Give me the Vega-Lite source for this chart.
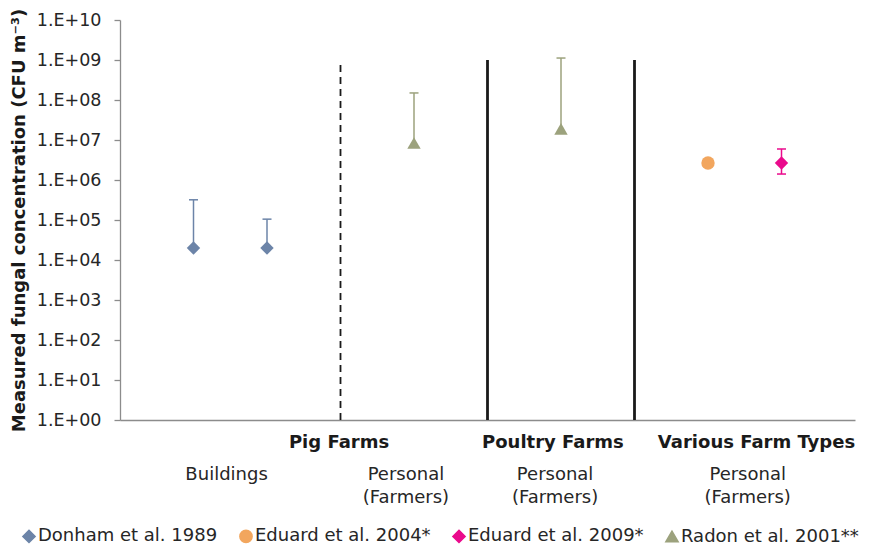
{
  "$schema": "https://vega.github.io/schema/vega-lite/v6.json",
  "width": 735,
  "height": 400,
  "autosize": {"type": "none"},
  "padding": {"left": 120, "top": 20, "right": 20, "bottom": 127},
  "config": {
    "view": {"stroke": null},
    "font": "DejaVu Sans",
    "axisX": {"labels": false, "ticks": false, "grid": false, "domainColor": "#8c8c8c", "domainWidth": 1.3, "title": null},
    "axisY": {"grid": false, "tickSize": 6, "tickColor": "#8c8c8c", "tickWidth": 1.3, "domainColor": "#8c8c8c", "domainWidth": 1.3, "labelFontSize": 17.5, "labelColor": "#262626", "labelPadding": 13, "titleFontSize": 18, "titleFontWeight": "bold", "titleColor": "#1a1a1a", "titlePadding": 8}
  },
  "datasets": {
    "points": [
      {"study": "Donham et al. 1989", "pos": 1, "value": 20000, "high": 320000},
      {"study": "Donham et al. 1989", "pos": 2, "value": 20000, "high": 105000},
      {"study": "Radon et al. 2001**", "pos": 4, "value": 8400000, "high": 150000000},
      {"study": "Radon et al. 2001**", "pos": 6, "value": 19000000, "high": 1120000000},
      {"study": "Eduard et al. 2004*", "pos": 8, "value": 2660000},
      {"study": "Eduard et al. 2009*", "pos": 9, "value": 2660000, "high": 5960000, "low": 1410000}
    ],
    "dashed": [{"pos": 3}],
    "solid": [{"pos": 5}, {"pos": 7}],
    "groups": [
      {"label": "Pig Farms", "pos": 2.98},
      {"label": "Poultry Farms", "pos": 5.89},
      {"label": "Various Farm Types", "pos": 8.66}
    ],
    "subgroups": [
      {"label": "Buildings", "pos": 1.45},
      {"label": "Personal|(Farmers)", "pos": 3.89},
      {"label": "Personal|(Farmers)", "pos": 5.92},
      {"label": "Personal|(Farmers)", "pos": 8.54}
    ]
  },
  "layer": [
    {
      "data": {"name": "dashed"},
      "mark": {"type": "rule", "color": "#1a1a1a", "strokeWidth": 1.8, "strokeDash": [7, 5]},
      "encoding": {
        "x": {"field": "pos", "type": "quantitative", "scale": {"domain": [0, 10]}},
        "y": {"datum": 1, "type": "quantitative", "scale": {"type": "log", "domain": [1, 10000000000], "nice": false}, "axis": {"title": "Measured fungal concentration (CFU m⁻³)", "values": [1, 10, 100, 1000, 10000, 100000, 1000000, 10000000, 100000000, 1000000000, 10000000000], "labelExpr": "'1.E+' + (round(log(datum.value)/LN10) < 10 ? '0' : '') + round(log(datum.value)/LN10)"}},
        "y2": {"datum": 1000000000}
      }
    },
    {
      "data": {"name": "solid"},
      "mark": {"type": "rule", "color": "#1a1a1a", "strokeWidth": 2.8},
      "encoding": {
        "x": {"field": "pos", "type": "quantitative", "scale": {"domain": [0, 10]}},
        "y": {"datum": 1, "type": "quantitative", "scale": {"type": "log", "domain": [1, 10000000000], "nice": false}, "axis": {"title": "Measured fungal concentration (CFU m⁻³)", "values": [1, 10, 100, 1000, 10000, 100000, 1000000, 10000000, 100000000, 1000000000, 10000000000], "labelExpr": "'1.E+' + (round(log(datum.value)/LN10) < 10 ? '0' : '') + round(log(datum.value)/LN10)"}},
        "y2": {"datum": 1000000000}
      }
    },
    {
      "data": {"name": "points"},
      "transform": [{"filter": "isValid(datum.high)"}],
      "mark": {"type": "rule", "strokeWidth": 1.5},
      "encoding": {
        "x": {"field": "pos", "type": "quantitative", "scale": {"domain": [0, 10]}},
        "y": {"field": "value", "type": "quantitative", "scale": {"type": "log", "domain": [1, 10000000000], "nice": false}, "axis": {"title": "Measured fungal concentration (CFU m⁻³)", "values": [1, 10, 100, 1000, 10000, 100000, 1000000, 10000000, 100000000, 1000000000, 10000000000], "labelExpr": "'1.E+' + (round(log(datum.value)/LN10) < 10 ? '0' : '') + round(log(datum.value)/LN10)"}},
        "y2": {"field": "high"},
        "color": {"field": "study", "type": "nominal", "title": null}
      }
    },
    {
      "data": {"name": "points"},
      "transform": [{"filter": "isValid(datum.low)"}],
      "mark": {"type": "rule", "strokeWidth": 1.5},
      "encoding": {
        "x": {"field": "pos", "type": "quantitative", "scale": {"domain": [0, 10]}},
        "y": {"field": "low", "type": "quantitative", "scale": {"type": "log", "domain": [1, 10000000000], "nice": false}, "axis": {"title": "Measured fungal concentration (CFU m⁻³)", "values": [1, 10, 100, 1000, 10000, 100000, 1000000, 10000000, 100000000, 1000000000, 10000000000], "labelExpr": "'1.E+' + (round(log(datum.value)/LN10) < 10 ? '0' : '') + round(log(datum.value)/LN10)"}},
        "y2": {"field": "value"},
        "color": {"field": "study", "type": "nominal", "title": null}
      }
    },
    {
      "data": {"name": "points"},
      "transform": [{"filter": "isValid(datum.high)"}],
      "mark": {"type": "point", "shape": "stroke", "size": 81, "filled": false, "strokeWidth": 1.5, "opacity": 1},
      "encoding": {
        "x": {"field": "pos", "type": "quantitative", "scale": {"domain": [0, 10]}},
        "y": {"field": "high", "type": "quantitative", "scale": {"type": "log", "domain": [1, 10000000000], "nice": false}, "axis": {"title": "Measured fungal concentration (CFU m⁻³)", "values": [1, 10, 100, 1000, 10000, 100000, 1000000, 10000000, 100000000, 1000000000, 10000000000], "labelExpr": "'1.E+' + (round(log(datum.value)/LN10) < 10 ? '0' : '') + round(log(datum.value)/LN10)"}},
        "color": {"field": "study", "type": "nominal", "title": null}
      }
    },
    {
      "data": {"name": "points"},
      "transform": [{"filter": "isValid(datum.low)"}],
      "mark": {"type": "point", "shape": "stroke", "size": 81, "filled": false, "strokeWidth": 1.5, "opacity": 1},
      "encoding": {
        "x": {"field": "pos", "type": "quantitative", "scale": {"domain": [0, 10]}},
        "y": {"field": "low", "type": "quantitative", "scale": {"type": "log", "domain": [1, 10000000000], "nice": false}, "axis": {"title": "Measured fungal concentration (CFU m⁻³)", "values": [1, 10, 100, 1000, 10000, 100000, 1000000, 10000000, 100000000, 1000000000, 10000000000], "labelExpr": "'1.E+' + (round(log(datum.value)/LN10) < 10 ? '0' : '') + round(log(datum.value)/LN10)"}},
        "color": {"field": "study", "type": "nominal", "title": null}
      }
    },
    {
      "data": {"name": "points"},
      "mark": {"type": "point", "filled": true, "size": 180, "opacity": 1},
      "encoding": {
        "x": {"field": "pos", "type": "quantitative", "scale": {"domain": [0, 10]}},
        "y": {"field": "value", "type": "quantitative", "scale": {"type": "log", "domain": [1, 10000000000], "nice": false}, "axis": {"title": "Measured fungal concentration (CFU m⁻³)", "values": [1, 10, 100, 1000, 10000, 100000, 1000000, 10000000, 100000000, 1000000000, 10000000000], "labelExpr": "'1.E+' + (round(log(datum.value)/LN10) < 10 ? '0' : '') + round(log(datum.value)/LN10)"}},
        "color": {"field": "study", "type": "nominal", "title": null, "scale": {"domain": ["Donham et al. 1989", "Eduard et al. 2004*", "Eduard et al. 2009*", "Radon et al. 2001**"], "range": ["#6c84a8", "#f2a65e", "#ea0a8c", "#9ca27d"]}, "legend": {"title": null, "orient": "none", "legendX": -100, "legendY": 507, "direction": "horizontal", "columns": 4, "columnPadding": 18, "labelFontSize": 18, "labelColor": "#262626", "labelOffset": 0, "labelLimit": 400, "symbolSize": 150, "padding": 0}},
        "shape": {"field": "study", "type": "nominal", "title": null, "scale": {"domain": ["Donham et al. 1989", "Eduard et al. 2004*", "Eduard et al. 2009*", "Radon et al. 2001**"], "range": ["diamond", "circle", "diamond", "triangle-up"]}, "legend": {"title": null, "orient": "none", "legendX": -100, "legendY": 507, "direction": "horizontal", "columns": 4, "columnPadding": 18, "labelFontSize": 18, "labelColor": "#262626", "labelOffset": 0, "labelLimit": 400, "symbolSize": 150, "padding": 0}}
      }
    },
    {
      "data": {"name": "groups"},
      "mark": {"type": "text", "fontSize": 18, "fontWeight": "bold", "color": "#1a1a1a", "align": "center", "baseline": "alphabetic"},
      "encoding": {
        "x": {"field": "pos", "type": "quantitative", "scale": {"domain": [0, 10]}},
        "y": {"datum": 0.2, "type": "quantitative", "scale": {"type": "log", "domain": [1, 10000000000], "nice": false}, "axis": {"title": "Measured fungal concentration (CFU m⁻³)", "values": [1, 10, 100, 1000, 10000, 100000, 1000000, 10000000, 100000000, 1000000000, 10000000000], "labelExpr": "'1.E+' + (round(log(datum.value)/LN10) < 10 ? '0' : '') + round(log(datum.value)/LN10)"}},
        "text": {"field": "label"}
      }
    },
    {
      "data": {"name": "subgroups"},
      "mark": {"type": "text", "fontSize": 18, "color": "#262626", "align": "center", "baseline": "alphabetic", "lineBreak": "|", "lineHeight": 23},
      "encoding": {
        "x": {"field": "pos", "type": "quantitative", "scale": {"domain": [0, 10]}},
        "y": {"datum": 0.0316, "type": "quantitative", "scale": {"type": "log", "domain": [1, 10000000000], "nice": false}, "axis": {"title": "Measured fungal concentration (CFU m⁻³)", "values": [1, 10, 100, 1000, 10000, 100000, 1000000, 10000000, 100000000, 1000000000, 10000000000], "labelExpr": "'1.E+' + (round(log(datum.value)/LN10) < 10 ? '0' : '') + round(log(datum.value)/LN10)"}},
        "text": {"field": "label"}
      }
    }
  ]
}
